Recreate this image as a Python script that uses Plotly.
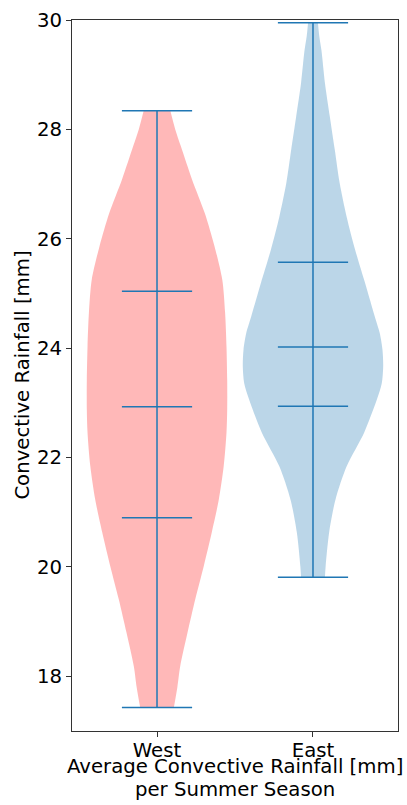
import plotly.graph_objects as go

# ---- data ----
categories = ["West", "East"]
positions = [1, 2]
y_ticks = [18, 20, 22, 24, 26, 28, 30]

# violin outlines: y levels (mm) and relative density (fraction of max width)
west_levels = [28.34, 28.00, 27.69, 27.08, 26.47, 25.86, 25.25, 24.65, 24.03, 23.42, 22.88,
               22.46, 21.84, 21.23, 20.63, 20.01, 19.41, 18.80, 18.18, 17.80, 17.43]
west_density = [0.19, 0.26, 0.34, 0.50, 0.68, 0.82, 0.93, 0.97, 0.99, 1.0, 1.0,
                0.99, 0.95, 0.88, 0.78, 0.665, 0.545, 0.435, 0.33, 0.29, 0.24]

east_levels = [29.95, 29.70, 29.45, 28.85, 28.23, 27.63, 27.02, 26.40, 25.80, 25.20, 24.89,
               24.58, 24.28, 23.97, 23.66, 23.36, 23.06, 22.46, 21.84, 21.23, 20.63,
               20.01, 19.81]
east_density = [0.07, 0.09, 0.12, 0.17, 0.24, 0.31, 0.38, 0.48, 0.60, 0.74, 0.81,
                0.88, 0.95, 0.99, 1.0, 0.98, 0.91, 0.73, 0.48, 0.32, 0.23,
                0.18, 0.17]

west_min, west_max = 17.43, 28.34
east_min, east_max = 19.81, 29.95
west_quantiles = [20.90, 22.93, 25.04]
east_quantiles = [22.94, 24.02, 25.57]

x_title = ["Average Convective Rainfall [mm]", "per Summer Season"]
y_title = "Convective Rainfall [mm]"

# ---- styles ----
half_width = 0.45
bar_half = 0.225
line_color = "#1f77b4"
fills = ["rgba(255,0,0,0.28)", "rgba(31,119,180,0.3)"]
font = "DejaVu Sans"
fs = 19.7

fig = go.Figure()

violins = [
    (west_levels, west_density, west_min, west_max, west_quantiles),
    (east_levels, east_density, east_min, east_max, east_quantiles),
]

for pos, fill, (lv, dens, mn, mx, qs) in zip(positions, fills, violins):
    left = [pos - half_width * d for d in dens]
    right = [pos + half_width * d for d in dens]
    fig.add_trace(go.Scatter(x=left, y=lv, mode="lines",
                             line=dict(width=0, color=fill, shape="spline", smoothing=0.8),
                             hoverinfo="skip", showlegend=False))
    fig.add_trace(go.Scatter(x=right, y=lv, mode="lines", fill="tonextx", fillcolor=fill,
                             line=dict(width=0, color=fill, shape="spline", smoothing=0.8),
                             hoverinfo="skip", showlegend=False))

for pos, (lv, dens, mn, mx, qs) in zip(positions, violins):
    fig.add_trace(go.Scatter(x=[pos, pos], y=[mn, mx], mode="lines",
                             line=dict(color=line_color, width=1.5), showlegend=False))
    for v in [mn, mx] + qs:
        fig.add_trace(go.Scatter(x=[pos - bar_half, pos + bar_half], y=[v, v], mode="lines",
                                 line=dict(color=line_color, width=1.5), showlegend=False))

fig.update_layout(
    width=407, height=805,
    margin=dict(l=72, r=9, t=20, b=74),
    paper_bgcolor="white", plot_bgcolor="white",
    font=dict(family=font, size=fs, color="black"),
    showlegend=False,
)
fig.update_xaxes(
    range=[0.455, 2.545], tickvals=positions, ticktext=categories,
    ticks="outside", ticklen=5, tickcolor="#333", showgrid=False, zeroline=False,
    showline=True, linecolor="#333", linewidth=1, mirror=True, automargin=False,
    ticklabelstandoff=-4,
)
fig.update_yaxes(
    range=[17, 30], tickvals=y_ticks,
    ticks="outside", ticklen=5, tickcolor="#333", showgrid=False, zeroline=False,
    showline=True, linecolor="#333", linewidth=1, mirror=True, automargin=False,
)

# axis titles as annotations for exact placement
fig.add_annotation(text=x_title[0], xref="paper", yref="paper", x=0.5, y=-0.0505,
                   xanchor="center", yanchor="middle", showarrow=False, font=dict(size=fs))
fig.add_annotation(text=x_title[1], xref="paper", yref="paper", x=0.5, y=-0.0825,
                   xanchor="center", yanchor="middle", showarrow=False, font=dict(size=fs))
fig.add_annotation(text=y_title, xref="paper", yref="paper", x=-0.153, y=0.5,
                   xanchor="center", yanchor="middle", textangle=-90, showarrow=False,
                   font=dict(size=fs))

fig.write_html("out.html", config={"displayModeBar": False},
               post_script="document.body.style.margin='0';document.body.style.overflow='hidden';")
